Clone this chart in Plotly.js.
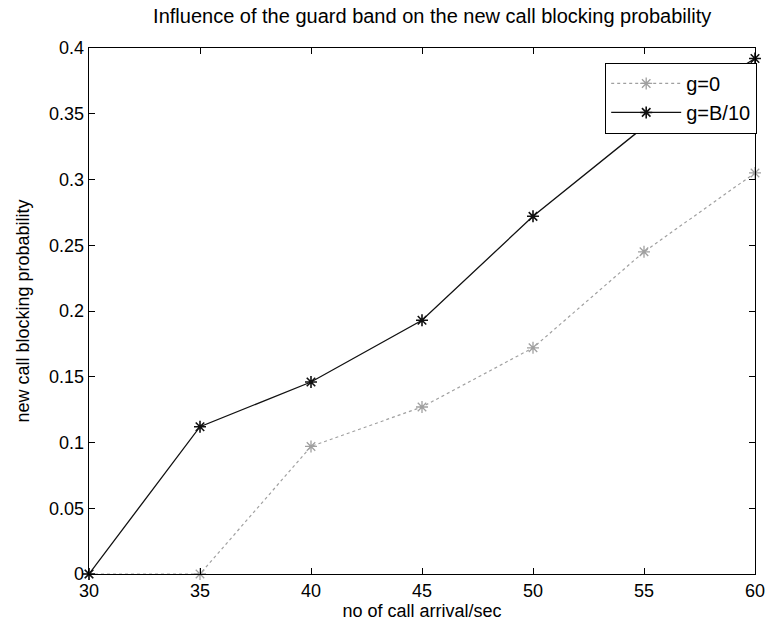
<!DOCTYPE html>
<html>
<head>
<meta charset="utf-8">
<script src="https://cdn.plot.ly/plotly-3.0.1.min.js"></script>
<style>html,body{margin:0;padding:0;background:#fff;}#chart{width:769px;height:628px;}</style>
</head>
<body>
<div id="chart"></div>
<script>
const arrivals = [30, 35, 40, 45, 50, 55, 60];
const blockG0 = [0, 0, 0.097, 0.127, 0.172, 0.245, 0.305];
const blockGB10 = [0, 0.112, 0.146, 0.193, 0.272, 0.34, 0.392];
const seriesNames = ['g=0', 'g=B/10'];
const xTicks = [30, 35, 40, 45, 50, 55, 60];
const yTicks = [0, 0.05, 0.1, 0.15, 0.2, 0.25, 0.3, 0.35, 0.4];
const yTickText = ['0', '0.05', '0.1', '0.15', '0.2', '0.25', '0.3', '0.35', '0.4'];

const FONT = '"Liberation Sans", Arial, sans-serif';

const traces = [
  {
    x: arrivals, y: blockG0, name: seriesNames[0], mode: 'lines+markers',
    line: {color: '#a0a0a0', width: 1.2, dash: 'dot'},
    marker: {symbol: 'asterisk-open', size: 10, color: '#a0a0a0', line: {color: '#a0a0a0', width: 1.3}},
    cliponaxis: false
  },
  {
    x: arrivals, y: blockGB10, name: seriesNames[1], mode: 'lines+markers',
    line: {color: '#111', width: 1.3},
    marker: {symbol: 'asterisk-open', size: 10, color: '#111', line: {color: '#111', width: 1.6}},
    cliponaxis: false
  }
];

const axisCommon = {
  showgrid: false, zeroline: false, showline: true, linecolor: '#000', linewidth: 1.3,
  mirror: 'allticks', ticks: 'inside', ticklen: 6, tickcolor: '#000', tickwidth: 1,
  ticklabeloverflow: 'allow',
  tickfont: {family: FONT, size: 18, color: '#000'}
};

const layout = {
  width: 769, height: 628,
  margin: {l: 89, r: 12, t: 48, b: 54},
  paper_bgcolor: '#fff', plot_bgcolor: '#fff',
  font: {family: FONT, color: '#000'},
  title: {text: 'Influence of the guard band on the new call blocking probability',
          font: {family: FONT, size: 20, color: '#000'}, x: 0.562, xanchor: 'center', y: 0.985, yanchor: 'top'},
  xaxis: Object.assign({}, axisCommon, {
    range: [30, 60], tickvals: xTicks, ticktext: xTicks.map(String),
    title: {text: 'no of call arrival/sec', font: {family: FONT, size: 18, color: '#000'}, standoff: 4}
  }),
  yaxis: Object.assign({}, axisCommon, {
    range: [0, 0.4], tickvals: yTicks, ticktext: yTickText,
    title: {text: 'new call blocking probability', font: {family: FONT, size: 18, color: '#000'}, standoff: 14}
  }),
  legend: {
    x: 1.003, xanchor: 'right', y: 0.972, yanchor: 'top',
    bgcolor: '#fff', bordercolor: '#000', borderwidth: 1.2, itemwidth: 70,
    font: {family: FONT, size: 20, color: '#000'}
  },
  showlegend: true
};

Plotly.newPlot('chart', traces, layout, {displayModeBar: false, staticPlot: true});
</script>
</body>
</html>
